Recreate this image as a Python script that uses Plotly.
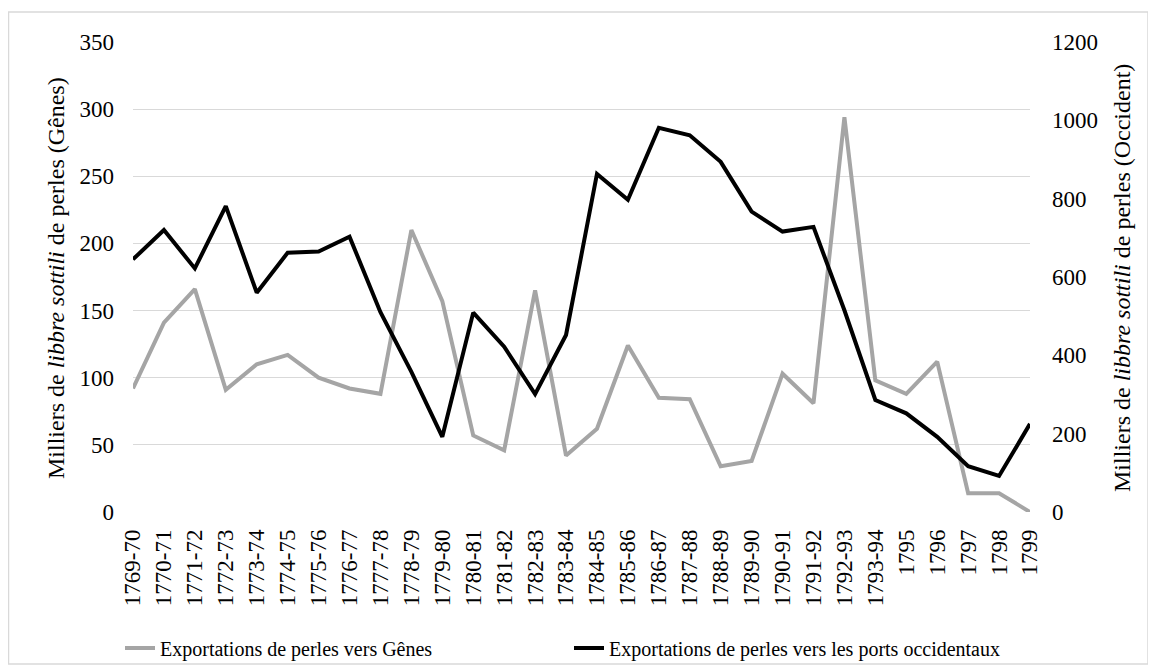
import plotly.graph_objects as go

categories = ["1769-70", "1770-71", "1771-72", "1772-73", "1773-74", "1774-75", "1775-76",
              "1776-77", "1777-78", "1778-79", "1779-80", "1780-81", "1781-82", "1782-83",
              "1783-84", "1784-85", "1785-86", "1786-87", "1787-88", "1788-89", "1789-90",
              "1790-91", "1791-92", "1792-93", "1793-94", "1795", "1796", "1797", "1798", "1799"]

genes = [92, 141, 166, 91, 110, 117, 100, 92, 88, 210, 157, 57, 46, 165,
         42, 62, 124, 85, 84, 34, 38, 103, 81, 294, 98, 88, 112, 14, 14, 0]

occident = [645, 720, 622, 781, 560, 662, 665, 703, 510, 358, 192, 509, 422, 301,
            452, 863, 797, 981, 962, 894, 767, 716, 728, 515, 286, 252, 192, 117, 92, 225]

left_ticks = [0, 50, 100, 150, 200, 250, 300, 350]
right_ticks = [0, 200, 400, 600, 800, 1000, 1200]

FONT = "Times New Roman, Liberation Serif, DejaVu Serif, serif"

fig = go.Figure()
fig.add_trace(go.Scatter(x=categories, y=genes, mode="lines", name="Exportations de perles vers Gênes",
                         line=dict(color="#A5A5A5", width=4), yaxis="y"))
fig.add_trace(go.Scatter(x=categories, y=occident, mode="lines",
                         name="Exportations de perles vers les ports occidentaux",
                         line=dict(color="#000000", width=4), yaxis="y2"))

OFF = 8  # page body margin
W, H = 1148, 664
L, R, T, B = 125, 126, 34, 160
pw, ph = W - L - R, H - T - B

def px(x):
    return (x - OFF - L) / pw

def py(y):
    return (H - B - (y - OFF)) / ph

fig.update_layout(
    width=W, height=H,
    margin=dict(l=L, r=R, t=T, b=B, autoexpand=False),
    paper_bgcolor="white", plot_bgcolor="white",
    font=dict(family=FONT, size=23, color="#000000"),
    showlegend=True,
    legend=dict(orientation="h", x=px(120), xanchor="left", y=py(648), yanchor="middle",
                font=dict(size=20, family=FONT), itemwidth=30, entrywidth=404,
                traceorder="normal", bgcolor="rgba(0,0,0,0)"),
    xaxis=dict(type="category", tickangle=-90, showgrid=False, zeroline=False, showline=False,
               ticks="", ticklabelstandoff=12, automargin=False, tickfont=dict(size=23, family=FONT)),
    yaxis=dict(range=[0, 350], tickvals=left_ticks, showgrid=True, gridcolor="#D9D9D9", gridwidth=1,
               zeroline=False, showline=False, ticks="", ticklabelstandoff=18, automargin=False,
               tickfont=dict(size=23, family=FONT)),
    yaxis2=dict(range=[0, 1200], tickvals=right_ticks, overlaying="y", side="right", showgrid=False,
                zeroline=False, showline=False, ticks="", ticklabelstandoff=21, automargin=False,
                tickfont=dict(size=23, family=FONT)),
    shapes=[dict(type="rect", xref="paper", yref="paper",
                 x0=px(8.5), x1=px(1148), y0=py(664), y1=py(12),
                 line=dict(color="#D9D9D9", width=1.5), fillcolor="rgba(0,0,0,0)", layer="below")],
    annotations=[
        dict(text="Milliers de <i>libbre sottili</i> de perles (Gênes)", xref="paper", yref="paper",
             x=px(56), y=py(278), textangle=-90, showarrow=False, xanchor="center", yanchor="middle",
             font=dict(size=24, family=FONT)),
        dict(text="Milliers de <i>libbre sottili</i> de perles (Occident)", xref="paper", yref="paper",
             x=px(1122), y=py(278), textangle=-90, showarrow=False, xanchor="center", yanchor="middle",
             font=dict(size=24, family=FONT)),
    ],
)

fig.write_html("out.html")
